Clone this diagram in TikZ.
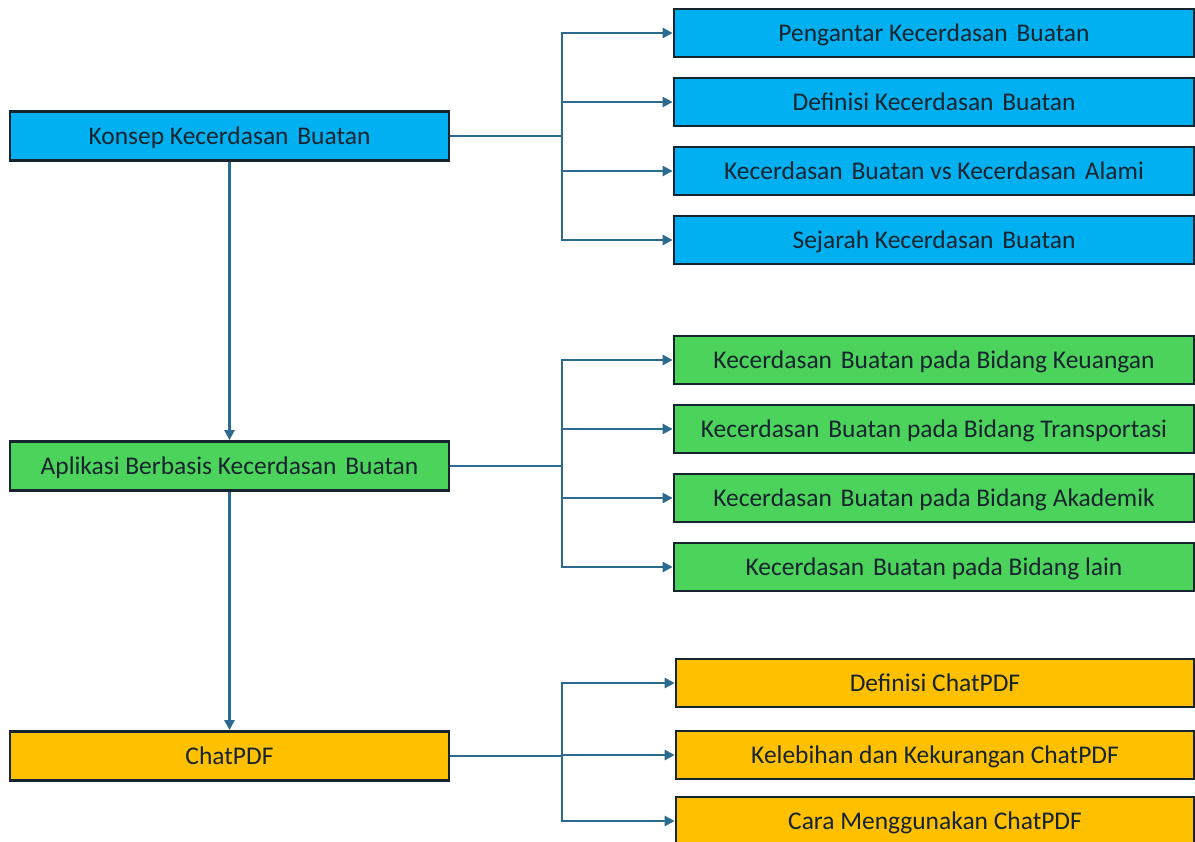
\documentclass[tikz,border=0pt]{standalone}
\usepackage{fontspec}
\setmainfont{Carlito}
\usepackage{tikz}
\usetikzlibrary{calc}
\usetikzlibrary{arrows.meta}

\definecolor{boxblue}{HTML}{00B0F0}
\definecolor{boxgreen}{HTML}{4CD35B}
\definecolor{boxorange}{HTML}{FFC000}
\definecolor{boxline}{HTML}{16242F}
\definecolor{linkcol}{HTML}{2C6A8F}

\newcommand{\wsp}{\hspace{0.12em}\ }

\tikzset{
  mainbox/.style={draw=boxline, line width=1.6pt, minimum width=8.78cm, minimum height=0.98cm, inner sep=0pt, text height=9.6pt, text depth=0pt, font=\fontsize{14.5}{17}\selectfont, text=boxline},
  subbox/.style={draw=boxline, line width=1.6pt, minimum width=10.4cm, minimum height=0.96cm, inner sep=0pt, text height=9.6pt, text depth=0pt, font=\fontsize{14.5}{17}\selectfont, text=boxline},
  link/.style={draw=linkcol, line width=1.5pt, -{Triangle[length=2mm, width=2mm]}},
}

\begin{document}
\begin{tikzpicture} [x=0.02cm, y=-0.02cm]
\useasboundingbox (0,0) rectangle (1195,841);

% main column
\node[mainbox, fill=boxblue] (konsep) at (229.5,136) {Konsep Kecerdasan\wsp Buatan};
\node[mainbox, fill=boxgreen] (aplikasi) at (229.5,466) {Aplikasi Berbasis Kecerdasan\wsp Buatan};
\node[mainbox, fill=boxorange] (chat) at (229.5,756) {ChatPDF};

\draw[link] (konsep.south) -- (aplikasi.north);
\draw[link] (aplikasi.south) -- (chat.north);

% bus lines
\coordinate (bus) at (562,0);

% first group
\foreach \t [count=\i] in {Pengantar Kecerdasan\wsp Buatan, Definisi Kecerdasan\wsp Buatan, Kecerdasan\wsp Buatan vs Kecerdasan\wsp Alami, Sejarah Kecerdasan\wsp Buatan} {
  \node[subbox, fill=boxblue] (konsep\i) at (934, {33+69*(\i-1)}) {\t};
  \draw[link] (konsep.east) -- (konsep.east -| bus) |- (konsep\i.west);
}

% second group
\foreach \t [count=\i] in {Kecerdasan\wsp Buatan pada Bidang Keuangan, Kecerdasan\wsp Buatan pada Bidang Transportasi, Kecerdasan\wsp Buatan pada Bidang Akademik, Kecerdasan\wsp Buatan pada Bidang lain} {
  \node[subbox, fill=boxgreen] (aplikasi\i) at (934, {360+69*(\i-1)}) {\t};
  \draw[link] (aplikasi.east) -- (aplikasi.east -| bus) |- (aplikasi\i.west);
}

% third group
\foreach \t/\y [count=\i] in {Definisi ChatPDF/683, Kelebihan dan Kekurangan ChatPDF/755, Cara Menggunakan ChatPDF/821} {
  \node[subbox, fill=boxorange, minimum width=10.36cm] (chat\i) at (935,\y) {\t};
  \draw[link] (chat.east) -- (chat.east -| bus) |- (chat\i.west);
}
\end{tikzpicture}
\end{document}
